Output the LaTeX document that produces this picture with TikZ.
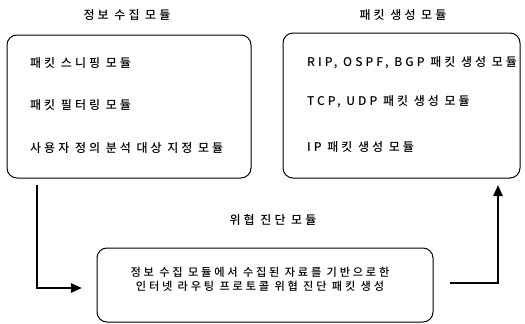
\documentclass[tikz,border=0pt]{standalone}
\usepackage{fontspec}
\setmainfont{Noto Sans CJK KR}[UprightFont=* Medium, LetterSpace=25]
\usetikzlibrary{arrows.meta}
\tikzset{
  box/.style={draw, line width=1pt, rounded corners=10pt},
  lbl/.style={font=\fontsize{12}{14}\selectfont, inner sep=0pt},
  item/.style={lbl, anchor=west},
  flow/.style={line width=2.6pt, -{Triangle[length=11pt,width=9pt]}}
}
\begin{document}
\begin{tikzpicture}[x=1pt,y=-1pt]
\useasboundingbox (0,0) rectangle (525,324);
% left box
\draw[box] (7,35) rectangle (251,178);
\node[lbl] (t1) at (127,15) {정보 수집 모듈};
\node[item] (a1) at (30,63) {패킷 스니핑 모듈};
\node[item] (a2) at (30,105) {패킷 필터링 모듈};
\node[item] (a3) at (30,148) {사용자 정의 분석 대상 지정 모듈};
% right box
\draw[box] (283,33) rectangle (520,178);
\node[lbl] (t2) at (403,15) {패킷 생성 모듈};
\node[item] (b1) at (307,63) {RIP, OSPF, BGP 패킷 생성 모듈};
\node[item] (b2) at (307,102) {TCP, UDP 패킷 생성 모듈};
\node[item] (b3) at (307,147) {IP 패킷 생성 모듈};
% bottom box
\draw[box] (97,248) rectangle (433,322);
\node[lbl] (t3) at (273,220) {위협 진단 모듈};
\node[lbl, font=\fontsize{11.2}{14}\selectfont, align=center] (c1) at (260,279) {정보 수집 모듈에서 수집된 자료를 기반으로한\\[0pt]인터넷 라우팅 프로토콜 위협 진단 패킷 생성};
% arrows
\coordinate (p1) at (37,185);
\coordinate (p2) at (37,288);
\coordinate (p3) at (82,288);
\coordinate (q1) at (450,283);
\coordinate (q2) at (498,283);
\coordinate (q3) at (498,185);
\draw[flow] (p1) -- (p2) -- (p3);
\draw[flow] (q1) -- (q2) -- (q3);
\end{tikzpicture}
\end{document}
